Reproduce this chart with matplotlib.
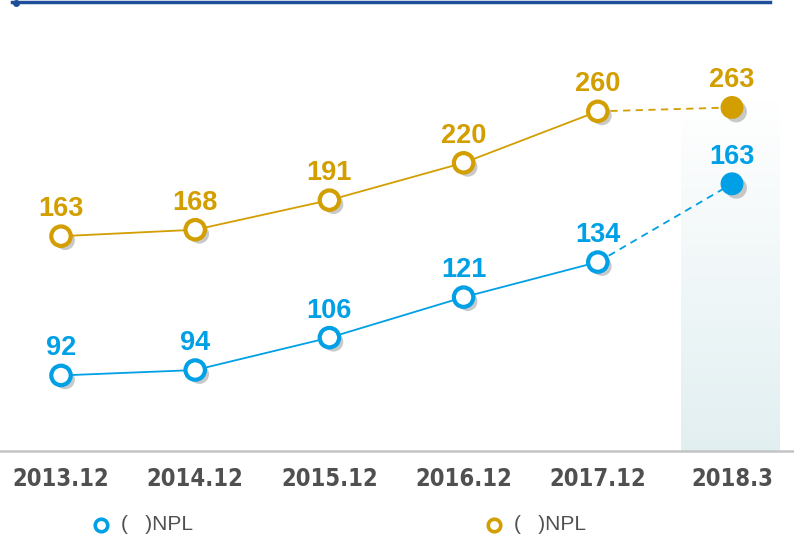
import numpy as np
import matplotlib
matplotlib.use("Agg")
import matplotlib.pyplot as plt
from matplotlib.lines import Line2D
import matplotlib.patheffects as pe
from matplotlib.colors import LinearSegmentedColormap

categories = ["2013.12", "2014.12", "2015.12", "2016.12", "2017.12", "2018.3"]
npl_blue = [92, 94, 106, 121, 134, 163]
npl_orange = [163, 168, 191, 220, 260, 263]
legend_labels = ["(   )NPL", "(   )NPL"]

BLUE = "#00A0E6"
ORANGE = "#D29E00"
GRAY_TXT = "#505050"

W, H = 794, 539
fig = plt.figure(figsize=(W / 100, H / 100), dpi=100)
base_px = 451
ax = fig.add_axes([0, (H - base_px) / H, 1, base_px / H])
ax2 = ax.twinx()

x = np.arange(len(categories))
step = 134.2
ax.set_xlim(-61 / step, (W - 61) / step)
ax.set_ylim(64.0, 231.1)
ax2.set_ylim(-3.9, 346.5)

for a in (ax, ax2):
    a.set_facecolor("none")
    for s in a.spines.values():
        s.set_visible(False)
    a.tick_params(left=False, right=False, labelleft=False, labelright=False, bottom=False)
ax2.tick_params(labelbottom=False)

# shaded forecast column (gradient)
grad = np.linspace(0, 1, 256).reshape(-1, 1)
cmap = LinearSegmentedColormap.from_list("g", ["#ffffff", "#e2eff1"])
y_top = 64.0 + (231.1 - 64.0) * (base_px - 100) / base_px
ax.imshow(grad, cmap=cmap, aspect="auto", origin="upper",
          extent=[(681 - 61) / step, (780 - 61) / step, 64.0, y_top], zorder=0)

shadow = [pe.SimplePatchShadow(offset=(3, -3), shadow_rgbFace="#888888", alpha=0.45), pe.Normal()]

def draw_series(a, vals, color):
    a.plot(x[:-1], vals[:-1], color=color, lw=1.3, zorder=2)
    a.plot(x[-2:], vals[-2:], color=color, lw=1.3, ls=(0, (4, 3)), zorder=2)
    a.plot(x[:-1], vals[:-1], ls="none", marker="o", ms=14, mfc="white", mec=color,
           mew=3, zorder=3, path_effects=shadow)
    a.plot(x[-1:], vals[-1:], ls="none", marker="o", ms=15.5, mfc=color, mec=color,
           mew=1, zorder=3, path_effects=shadow)
    for xi, v in zip(x, vals):
        a.annotate(str(v), (xi, v), xytext=(0, 19.5), textcoords="offset points",
                   ha="center", va="center", fontsize=19.5, fontweight="bold",
                   color=color, family="Liberation Sans", zorder=4)

draw_series(ax, npl_blue, BLUE)
draw_series(ax2, npl_orange, ORANGE)

ax.set_xticks(x)
ax.set_xticklabels(categories, fontsize=17, fontweight="bold", color=GRAY_TXT,
                   family="DejaVu Sans", fontstretch="condensed")
ax.tick_params(axis="x", pad=8)

# baseline
fig.add_artist(Line2D([0, 1], [(H - base_px) / H] * 2, color="#c4c4c4", lw=1.8))
# top rule
fig.add_artist(Line2D([12 / W, 770 / W], [1 - 1.5 / H] * 2, color="#1F4E9A", lw=2.5))
fig.add_artist(Line2D([16 / W], [1 - 3 / H], marker="o", ms=4, color="#1F4E9A"))

# legend
ly = 1 - 525 / H
for cx, col, lab in [(101, BLUE, legend_labels[0]), (494, ORANGE, legend_labels[1])]:
    fig.add_artist(Line2D([cx / W], [ly], marker="o", ms=9, mfc="white", mec=col, mew=2.6))
    fig.text((cx + 20) / W, ly, lab, ha="left", va="center", fontsize=15,
             color=GRAY_TXT, family="Liberation Sans")

fig.savefig("out.png", dpi=100)
